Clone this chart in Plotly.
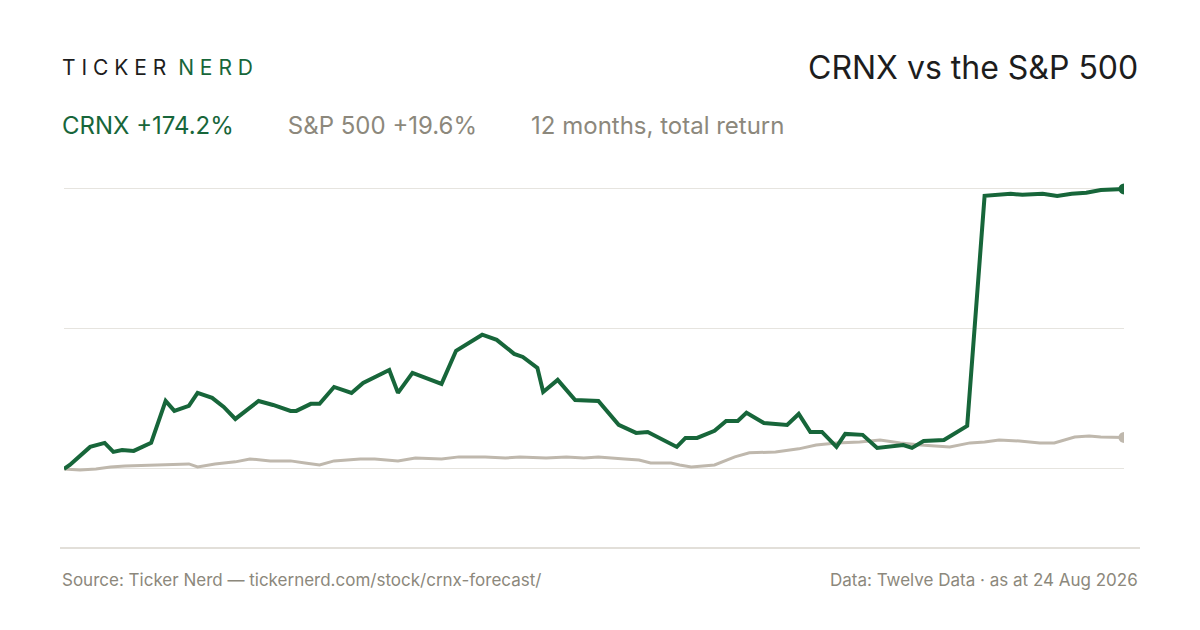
import plotly.graph_objects as go

crnx_days = [0,2,9,14,17,20,24,30,35,38,43,46,51,55,59,67,72,78,80,85,88,93,99,103,112,115,120,130,135,144,149,155,158,163,165,170,176,184,191,197,201,211,214,218,224,228,232,235,241,249,253,257,261,266,269,275,280,289,292,296,303,311,317,326,330,333,337,342,347,352,357,365]
crnx_pct = [0,2.5,13.7,16.2,10.6,11.8,11.2,16.2,42.3,36.1,39.2,47.3,44.2,38.6,31.1,42.3,39.8,36.1,36.1,40.5,40.5,51.0,47.3,53.5,61.6,47.3,59.8,52.9,73.5,83.5,80.3,71.6,69.7,62.9,47.9,55.4,42.9,42.3,27.4,22.4,23.0,13.7,19.3,19.3,23.7,29.9,29.9,34.9,28.6,27.4,34.2,23.0,23.0,13.7,21.8,21.2,13.1,14.9,13.1,17.4,18.0,26.8,169.9,171.2,170.6,170.6,171.2,169.9,171.2,171.8,173.6,174.2]
spx_days = [0,5.5,11,16,21,30,38,43,46,52,59,64,71,78,83,88,93,102,107,115,121,130,136,145,152,157,166,173,179,184,193,198,202,209,212,216,224,231,236,245,253,259,266,274,281,288,295,305,312,317,322,329,336,341,348,353,357,365]
spx_pct = [0,-0.6,0,1.2,1.9,2.5,3.1,3.1,1.2,3.1,4.4,6.2,5.0,5.0,3.7,2.5,5.0,6.2,6.2,5.0,6.8,6.2,7.5,7.5,6.8,7.5,6.8,7.5,6.8,7.5,6.2,5.6,3.7,3.7,2.5,1.2,2.5,7.5,10.0,10.6,12.5,14.9,16.2,16.8,18.0,16.2,14.9,13.7,16.2,16.8,18.0,17.4,16.2,16.2,19.9,20.5,19.9,19.6]
grid_vals = [0, 87.1, 174.2]

GREEN = "#17663a"
GREY = "#bfb8ad"
TXT = "#8c887c"
F = "Inter, Roboto, sans-serif"

fig = go.Figure()
fig.add_trace(go.Scatter(x=spx_days, y=spx_pct, mode="lines", line=dict(color=GREY, width=3), hoverinfo="skip"))
fig.add_trace(go.Scatter(x=crnx_days, y=crnx_pct, mode="lines", line=dict(color=GREEN, width=4), hoverinfo="skip"))
fig.add_trace(go.Scatter(x=[spx_days[-1]], y=[spx_pct[-1]], mode="markers", marker=dict(color=GREY, size=11)))
fig.add_trace(go.Scatter(x=[crnx_days[-1]], y=[crnx_pct[-1]], mode="markers", marker=dict(color=GREEN, size=11)))

fig.update_layout(
    width=1200, height=630, showlegend=False,
    paper_bgcolor="white", plot_bgcolor="white",
    margin=dict(l=56, r=84, t=162, b=90),
    font=dict(family=F),
    xaxis=dict(range=[0, 365], showgrid=False, showticklabels=False, zeroline=False, showline=False),
    yaxis=dict(range=[-49.2, 186], tickvals=grid_vals, showticklabels=False, gridcolor="#e6e4df", gridwidth=1, zeroline=False, showline=False),
    shapes=[dict(type="line", xref="paper", yref="paper", x0=-0.0038, x1=1.0151, y0=0, y1=0, line=dict(color="#d8d5cc", width=1.5))],
    annotations=[
        dict(text="T I C K E R  <span style='color:%s'>N E R D</span>" % GREEN, xref="paper", yref="paper", x=-0.0038, y=1.27, xanchor="left", yanchor="middle", showarrow=False, font=dict(size=21, color="#1d1d1d", family=F)),
        dict(text="CRNX vs the S&P 500", xref="paper", yref="paper", x=1.0151, y=1.27, xanchor="right", yanchor="middle", showarrow=False, font=dict(size=32, color="#1d1d1d", family=F)),
        dict(text="<span style='color:%s'>CRNX +174.2%%</span>        <span style='color:%s'>S&P 500 +19.6%%</span>        <span style='color:%s'>12 months, total return</span>" % (GREEN, TXT, TXT), xref="paper", yref="paper", x=-0.0038, y=1.119, xanchor="left", yanchor="middle", showarrow=False, font=dict(size=24, family=F)),
        dict(text="Source: Ticker Nerd — tickernerd.com/stock/crnx-forecast/", xref="paper", yref="paper", x=-0.0038, y=-0.085, xanchor="left", yanchor="middle", showarrow=False, font=dict(size=17, color=TXT, family=F)),
        dict(text="Data: Twelve Data · as at 24 Aug 2026", xref="paper", yref="paper", x=1.0151, y=-0.085, xanchor="right", yanchor="middle", showarrow=False, font=dict(size=17, color=TXT, family=F)),
    ],
)
fig.write_html("out.html")
